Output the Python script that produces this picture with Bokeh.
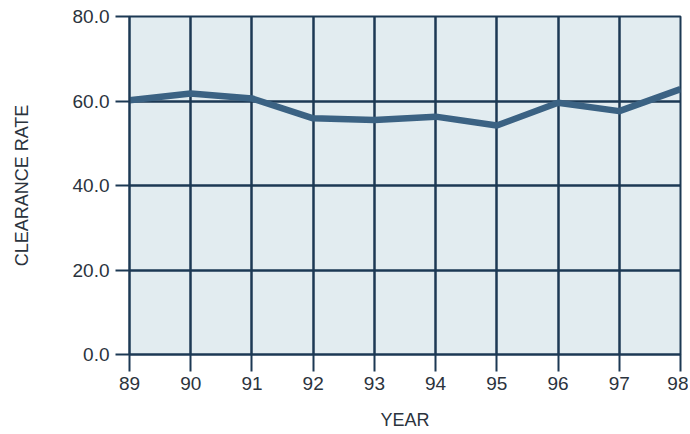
from bokeh.plotting import figure
from bokeh.models import Range1d, FixedTicker, CustomJSTickFormatter
from bokeh.embed import file_html
from bokeh.resources import INLINE

years = [89, 90, 91, 92, 93, 94, 95, 96, 97, 98]
clearance = [60.2, 61.8, 60.6, 55.9, 55.5, 56.3, 54.2, 59.6, 57.6, 62.8]
y_ticks = [0, 20, 40, 60, 80]

GRID = "#1c3954"
LINE = "#3b6283"
TEXT = "#2b333d"
FONT = "Liberation Sans"

p = figure(width=688, height=432, output_backend="svg", toolbar_location=None,
           x_range=Range1d(89, 98), y_range=Range1d(0, 80),
           min_border_left=129, min_border_right=8, min_border_top=16, min_border_bottom=77)

p.border_fill_color = "white"
p.background_fill_color = "#e2ecf0"
p.outline_line_color = GRID
p.outline_line_width = 2

p.line(years, clearance, line_color=LINE, line_width=6.5, line_join="round")

p.xaxis.ticker = FixedTicker(ticks=years)
p.yaxis.ticker = FixedTicker(ticks=y_ticks)
p.yaxis.formatter = CustomJSTickFormatter(code="return tick.toFixed(1);")

for ax in (p.xaxis[0], p.yaxis[0]):
    ax.axis_line_color = GRID
    ax.axis_line_width = 2
    ax.major_tick_line_color = GRID
    ax.major_tick_line_width = 2
    ax.major_tick_in = 0
    ax.minor_tick_line_color = None
    ax.major_label_text_font = FONT
    ax.major_label_text_font_size = "19px"
    ax.major_label_text_color = TEXT
    ax.axis_label_text_font = FONT
    ax.axis_label_text_font_size = "18px"
    ax.axis_label_text_font_style = "normal"
    ax.axis_label_text_color = TEXT

p.xaxis.major_tick_out = 17
p.yaxis.major_tick_out = 14
p.xaxis.major_label_standoff = 5
p.yaxis.major_label_standoff = 6
p.xaxis.axis_label = "YEAR"
p.yaxis.axis_label = "CLEARANCE RATE"
p.xaxis.axis_label_standoff = 17
p.yaxis.axis_label_standoff = 38

p.xgrid.ticker = FixedTicker(ticks=years)
p.ygrid.ticker = FixedTicker(ticks=y_ticks)
for g in (p.xgrid[0], p.ygrid[0]):
    g.grid_line_color = GRID
    g.grid_line_width = 2.5
    g.grid_line_alpha = 1.0

open("out.html", "w").write(file_html(p, INLINE))
